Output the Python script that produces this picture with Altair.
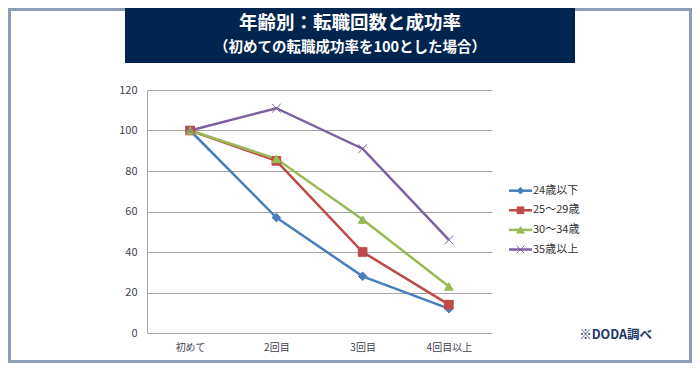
import altair as alt
import pandas as pd

# ---- data ----
ROUNDS = ["初めて", "2回目", "3回目", "4回目以上"]
SERIES = ["24歳以下", "25～29歳", "30～34歳", "35歳以上"]
V_24 = [100, 57, 28, 12]
V_25 = [100, 85, 40, 14]
V_30 = [100, 86, 56, 23]
V_35 = [100, 111, 91, 46]
Y_TICKS = [0, 20, 40, 60, 80, 100, 120]
TITLE = "年齢別：転職回数と成功率"
SUBTITLE = "（初めての転職成功率を100とした場合）"
SOURCE = "※DODA調べ"

COLORS = ["#4a7ebb", "#be4b48", "#98b954", "#7d60a0"]
XPATH = "M-1,-1L1,1M-1,1L1,-1"
SHAPES = ["diamond", "square", "triangle-up", XPATH]
SIZES_LEG = [45, 45, 55, 55]

rows = []
for s, vals in zip(SERIES, [V_24, V_25, V_30, V_35]):
    for r, v in zip(ROUNDS, vals):
        rows.append({"round": r, "value": v, "series": s})
df = pd.DataFrame(rows)
one = pd.DataFrame({"k": [0]})

FONT = "Noto Sans CJK JP"
W, H = 345, 243
PAD = {"left": 139, "top": 82, "right": 200, "bottom": 30}

color_scale = alt.Scale(domain=SERIES, range=COLORS)
x_enc = alt.X("round:N", sort=ROUNDS, scale=alt.Scale(type="point", padding=0.5),
              axis=alt.Axis(title=None, labelAngle=0, domain=False, ticks=False,
                            labelPadding=9, labelFontSize=10, grid=False))
y_enc = alt.Y("value:Q", scale=alt.Scale(domain=[0, 120], nice=False),
              axis=alt.Axis(title=None, values=Y_TICKS, ticks=False, labelPadding=10,
                            labelFontSize=11, grid=True, domain=True))

frame = alt.Chart(one).mark_rect(fill=None, filled=False, stroke="#8c9cb4", strokeWidth=3).encode(
    x=alt.value(-137.5), x2=alt.value(543.5), y=alt.value(-80.5), y2=alt.value(271.5))

tbox = alt.Chart(one).mark_rect(fill="#022550").encode(
    x=alt.value(-22), x2=alt.value(428), y=alt.value(-82), y2=alt.value(-27))

t1 = alt.Chart(one).mark_text(font=FONT, fontSize=18.5, fontWeight="bold", color="white",
                              align="center", baseline="middle").encode(
    x=alt.value(203), y=alt.value(-67.5), text=alt.value(TITLE))
t2 = alt.Chart(one).mark_text(font=FONT, fontSize=14.5, fontWeight="bold", color="white",
                              align="center", baseline="middle").encode(
    x=alt.value(203), y=alt.value(-42), text=alt.value(SUBTITLE))

lines = alt.Chart(df).mark_line(strokeWidth=2.5).encode(
    x=x_enc, y=y_enc, color=alt.Color("series:N", scale=color_scale, legend=None))

points = alt.Chart(df).mark_point(filled=True, strokeWidth=1, opacity=1, size=75).encode(
    x=alt.X("round:N", sort=ROUNDS), y="value:Q",
    color=alt.Color("series:N", scale=color_scale, legend=None),
    stroke=alt.Stroke("series:N", scale=color_scale, legend=None),
    shape=alt.Shape("series:N", scale=alt.Scale(domain=SERIES, range=SHAPES), legend=None))

src = alt.Chart(one).mark_text(font=FONT, fontSize=12.5, fontWeight="bold", color="#1b3566",
                               align="right", baseline="middle").encode(
    x=alt.value(505), y=alt.value(245), text=alt.value(SOURCE))

legend_layers = []
LEG_Y0, LEG_STEP = 100.7, 19.6
for i, (name, col, shp, sz) in enumerate(zip(SERIES, COLORS, SHAPES, SIZES_LEG)):
    yy = LEG_Y0 + i * LEG_STEP
    legend_layers.append(alt.Chart(one).mark_rule(color=col, strokeWidth=2.5).encode(
        x=alt.value(362), x2=alt.value(385), y=alt.value(yy)))
    legend_layers.append(alt.Chart(one).mark_point(shape=shp, filled=True, fill=col, stroke=col,
                                                   strokeWidth=1, opacity=1, size=sz).encode(
        x=alt.value(373.5), y=alt.value(yy)))
    legend_layers.append(alt.Chart(one).mark_text(font=FONT, fontSize=11, color="#333333",
                                                  align="left", baseline="middle").encode(
        x=alt.value(386), y=alt.value(yy), text=alt.value(name)))

chart = alt.layer(frame, tbox, t1, t2, lines, points, src, *legend_layers).properties(
    width=W, height=H, padding=PAD, autosize=alt.AutoSizeParams(type="none"),
    background="white"
).configure_view(stroke=None).configure_axis(
    labelFont=FONT, labelColor="#3f3f4f", gridColor="#a6a6a6", domainColor="#a6a6a6",
    gridWidth=1, domainWidth=1
)

chart.save("out.html", embed_options={"renderer": "svg", "actions": False})
